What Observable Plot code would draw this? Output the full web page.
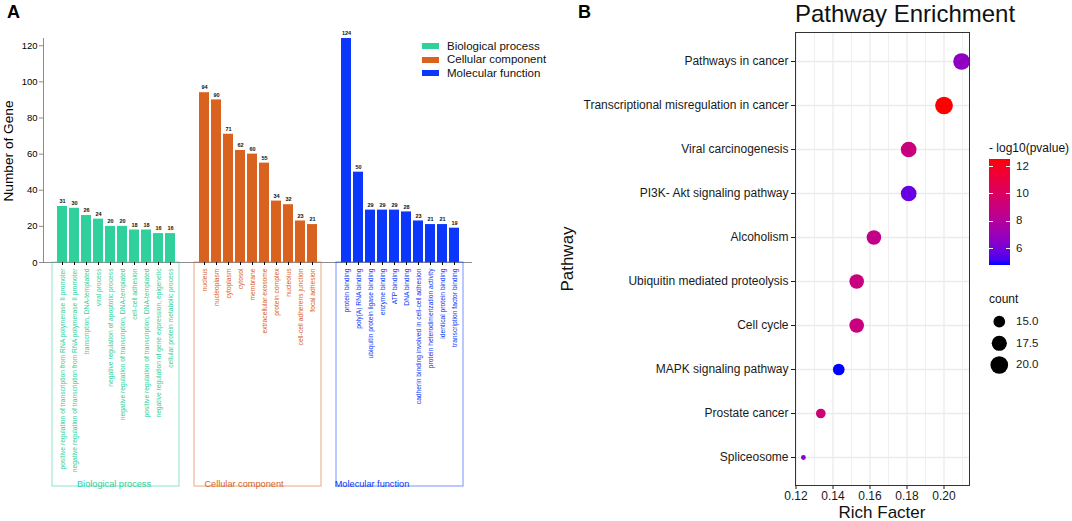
<!DOCTYPE html>
<html><head><meta charset="utf-8">
<script src="https://cdn.jsdelivr.net/npm/d3@7"></script>
<script src="https://cdn.jsdelivr.net/npm/@observablehq/plot@0.6"></script>
<style>
body{margin:0;background:#fff;}
#root{position:relative;width:1072px;height:521px;overflow:hidden;font-family:"Liberation Sans",Arial,sans-serif;color:#111;}
#root .wrap{position:absolute;}
#root .wrap svg{display:block;max-width:none;}
#axesA line, #axesA path{stroke:#8c8c8c;}
.t{position:absolute;white-space:nowrap;line-height:1;}
</style></head><body><div id="root"></div>
<script>
// ---------- Panel A data ----------
const goGroups = ["Biological process", "Cellular component", "Molecular function"];
const bpTerms = [
  "positive regulation of transcription from RNA polymerase II promoter",
  "negative regulation of transcription from RNA polymerase II promoter",
  "transcription, DNA-templated",
  "viral process",
  "negative regulation of apoptotic process",
  "negative regulation of transcription, DNA-templated",
  "cell-cell adhesion",
  "positive regulation of transcription, DNA-templated",
  "negative regulation of gene expression, epigenetic",
  "cellular protein metabolic process"
];
const bpCounts = [31, 30, 26, 24, 20, 20, 18, 18, 16, 16];
const ccTerms = ["nucleus", "nucleoplasm", "cytoplasm", "cytosol", "membrane", "extracellular exosome",
  "protein complex", "nucleolus", "cell-cell adherens junction", "focal adhesion"];
const ccCounts = [94, 90, 71, 62, 60, 55, 34, 32, 23, 21];
const mfTerms = ["protein binding", "poly(A) RNA binding", "ubiquitin protein ligase binding", "enzyme binding",
  "ATP binding", "DNA binding", "cadherin binding involved in cell-cell adhesion",
  "protein heterodimerization activity", "identical protein binding", "transcription factor binding"];
const mfCounts = [124, 50, 29, 29, 29, 28, 23, 21, 21, 19];
const yTicksA = [0, 20, 40, 60, 80, 100, 120];

// ---------- Panel B data ----------
const pathways = ["Pathways in cancer", "Transcriptional misregulation in cancer", "Viral carcinogenesis",
  "PI3K- Akt signaling pathway", "Alcoholism", "Ubiquitin mediated proteolysis", "Cell cycle",
  "MAPK signaling pathway", "Prostate cancer", "Spliceosome"];
const richFactor = [0.2095, 0.200, 0.1809, 0.1809, 0.1621, 0.1528, 0.1528, 0.1431, 0.1334, 0.1240];
const geneCount = [19, 20, 18, 18, 17, 17, 17, 15, 14, 13];
const negLog10P = [6.7, 12.54, 9.0, 5.7, 8.7, 9.0, 9.0, 4.77, 9.3, 6.5];
const xTicksB = [0.12, 0.14, 0.16, 0.18, 0.20];
const xMinorB = [0.13, 0.15, 0.17, 0.19, 0.21];
const colorTicks = [6, 8, 10, 12];
const sizeTicks = [15, 17.5, 20];

// ---------- styles ----------
const FONT = '"Liberation Sans", Arial, sans-serif';
const goColors = ["#2fd09c", "#d9621f", "#0a37fb"];
const groupLabelDx = [-2, -14, -28];

const root = document.getElementById("root");
function place(el, left, top, id) {
  const w = document.createElement("div");
  w.className = "wrap"; w.style.left = left + "px"; w.style.top = top + "px";
  if (id) w.id = id;
  w.appendChild(el); root.appendChild(w); return w;
}
function txt(s, x, baseline, fs, css = {}) {
  const d = document.createElement("div");
  d.className = "t"; d.textContent = s;
  d.style.fontSize = fs + "px";
  d.style.left = x + "px"; d.style.top = (baseline - 0.8465 * fs) + "px";
  Object.assign(d.style, css);
  root.appendChild(d); return d;
}
function vtxt(s, cx, cy, fs, css = {}) {
  const d = document.createElement("div");
  d.className = "t"; d.textContent = s;
  d.style.fontSize = fs + "px";
  d.style.left = cx + "px"; d.style.top = cy + "px";
  d.style.transform = "translate(-50%,-50%) rotate(-90deg)";
  Object.assign(d.style, css);
  root.appendChild(d); return d;
}

// ---------- Panel A ----------
const goRows = [
  ...bpTerms.map((t, i) => ({group: goGroups[0], rank: i, term: t, count: bpCounts[i]})),
  ...ccTerms.map((t, i) => ({group: goGroups[1], rank: i, term: t, count: ccCounts[i]})),
  ...mfTerms.map((t, i) => ({group: goGroups[2], rank: i, term: t, count: mfCounts[i]}))
];
const yMax = d3.max(goRows, d => d.count);
const dimA = {width: 490, height: 500, marginLeft: 43, marginRight: 18, marginTop: 38, marginBottom: 238};
const facetPad = {paddingInner: 0.109, paddingOuter: 0.063};

// axes layer
const axesA = Plot.plot({
  ...dimA,
  style: {background: "transparent", fontFamily: FONT, fontSize: "9.5px", color: "#000"},
  y: {domain: [0, yMax], ticks: yTicksA, tickSize: 4, tickPadding: 2, label: null, line: true},
  marks: [Plot.ruleY([0])]
});
place(axesA, 0, 0, "axesA");

// boxes layer
const boxesA = Plot.plot({
  width: dimA.width, height: dimA.height, marginLeft: dimA.marginLeft, marginRight: dimA.marginRight,
  marginTop: dimA.height - dimA.marginBottom, marginBottom: 14,
  style: {background: "transparent", fontFamily: FONT},
  x: {type: "band", domain: goGroups, ...facetPad, axis: null},
  color: {domain: goGroups, range: goColors},
  marks: [
    Plot.cell(goGroups, {x: d => d, stroke: d => d, fill: "none", strokeOpacity: 0.55}),
    ...goGroups.map((g, i) => Plot.text([g], {x: d => d, text: d => d, fill: d => d, frameAnchor: "bottom",
      fontSize: 9.2, dx: groupLabelDx[i]}))
  ]
});
place(boxesA, 0, 0);

// bars layer
const barsA = Plot.plot({
  ...dimA,
  style: {background: "transparent", fontFamily: FONT, color: "#000"},
  facet: {data: goRows, x: "group"},
  fx: {domain: goGroups, ...facetPad, axis: null, label: null},
  x: {type: "band", paddingInner: 0.18, paddingOuter: 0, tickSize: 3, tickFormat: () => "", label: null},
  y: {domain: [0, yMax], axis: null},
  color: {domain: goGroups, range: goColors},
  marks: [
    Plot.barY(goRows, {x: "rank", y: "count", fill: "group"}),
    Plot.text(goRows, {x: "rank", y: "count", text: "count", dy: -5, fontSize: 5.5, fontWeight: 600, fill: "#111"}),
    Plot.text(goRows, {x: "rank", y: () => 0, text: "term", rotate: -90, textAnchor: "end",
      dy: 6, fontSize: 6.7, fill: "group"})
  ]
});
place(barsA, 0, 0);

// panel A texts and legend
txt("A", 7, 18, 18, {fontWeight: "bold", color: "#000"});
vtxt("Number of Gene", 9, 151, 13.7, {color: "#000"});
goGroups.forEach((g, i) => {
  const base = 50.7 + i * 13.3;
  const sw = document.createElement("div");
  Object.assign(sw.style, {position: "absolute", left: "422px", top: (base - 7.3) + "px",
    width: "16.5px", height: "6px", background: goColors[i]});
  root.appendChild(sw);
  txt(g, 447, base, 11.5, {color: "#111"});
});

// ---------- Panel B ----------
const pathRows = pathways.map((p, i) => ({pathway: p, rich: richFactor[i], count: geneCount[i], p: negLog10P[i]}));
const [rLo, rHi] = d3.extent(richFactor);
const xPad = (rHi - rLo) * 0.05;
const countMin = d3.min(geneCount), countMax = d3.max(geneCount);

const chartB = Plot.plot({
  width: 420, height: 521, marginLeft: 235, marginRight: 11, marginTop: 32, marginBottom: 36,
  style: {background: "transparent", fontFamily: FONT, fontSize: "12px", color: "#1a1a1a"},
  x: {domain: [rLo - xPad, rHi + xPad], ticks: xTicksB, tickFormat: ".2f", tickSize: 4, tickPadding: 2, label: null},
  y: {type: "point", domain: pathways, padding: 0.6, tickSize: 4, tickPadding: 3, label: null},
  color: {type: "linear", range: ["blue", "red"], interpolate: d3.interpolateLab},
  r: {type: "sqrt", domain: [0, countMax - countMin], range: [2.4, 8.85]},
  marks: [
    Plot.ruleX(xMinorB, {stroke: "#ebebeb", strokeWidth: 0.8}),
    Plot.ruleX(xTicksB, {stroke: "#ebebeb", strokeWidth: 1.3}),
    Plot.ruleY(pathways, {stroke: "#ebebeb", strokeWidth: 1.3}),
    Plot.dot(pathRows, {x: "rich", y: "pathway", r: d => d.count - countMin, fill: "p"}),
    Plot.frame({stroke: "#333", strokeWidth: 1})
  ]
});
place(chartB, 560, 0);

txt("B", 578, 18, 18, {fontWeight: "bold", color: "#000"});
txt("Pathway Enrichment", 795, 22.8, 24, {color: "#111"});
const rf = txt("Rich Facter", 882, 518, 17, {color: "#111"});
rf.style.transform = "translateX(-50%)";
vtxt("Pathway", 567, 258.5, 17, {color: "#111"});

// color bar legend
const cScale = chartB.scale("color");
const [cLo, cHi] = cScale.domain;
const barTop = 159.3, barH = 105.7, barLeft = 989, barW = 21;
txt("- log10(pvalue)", 989, 152, 12, {color: "#111"});
const stops = d3.range(0, 1.0001, 0.05).map(t => `${cScale.apply(cLo + t * (cHi - cLo))} ${(t * 100).toFixed(1)}%`);
const bar = document.createElement("div");
Object.assign(bar.style, {position: "absolute", left: barLeft + "px", top: barTop + "px", width: barW + "px",
  height: barH + "px", background: `linear-gradient(to top, ${stops.join(",")})`});
root.appendChild(bar);
colorTicks.forEach(v => {
  const y = barTop + (cHi - v) / (cHi - cLo) * barH;
  [0, barW - 4].forEach(dx => {
    const tk = document.createElement("div");
    Object.assign(tk.style, {position: "absolute", left: (barLeft + dx) + "px", top: (y - 0.5) + "px",
      width: "4px", height: "1px", background: "#fff"});
    root.appendChild(tk);
  });
  txt(String(v), 1016, y + 4.1, 11.5, {color: "#1a1a1a"});
});

// size legend
const rScale = chartB.scale("r");
txt("count", 989, 303.5, 12, {color: "#111"});
const sizeCenters = [321.7, 343.3, 365];
const sv = d3.create("svg").attr("width", 40).attr("height", 80);
sizeTicks.forEach((v, i) => {
  sv.append("circle").attr("cx", 19.3).attr("cy", sizeCenters[i] - 305)
    .attr("r", rScale.apply(v - countMin)).attr("fill", "#000");
  txt(d3.format(".1f")(v), 1016, sizeCenters[i] + 4.2, 11.5, {color: "#1a1a1a"});
});
place(sv.node(), 980, 305);
</script></body></html>
